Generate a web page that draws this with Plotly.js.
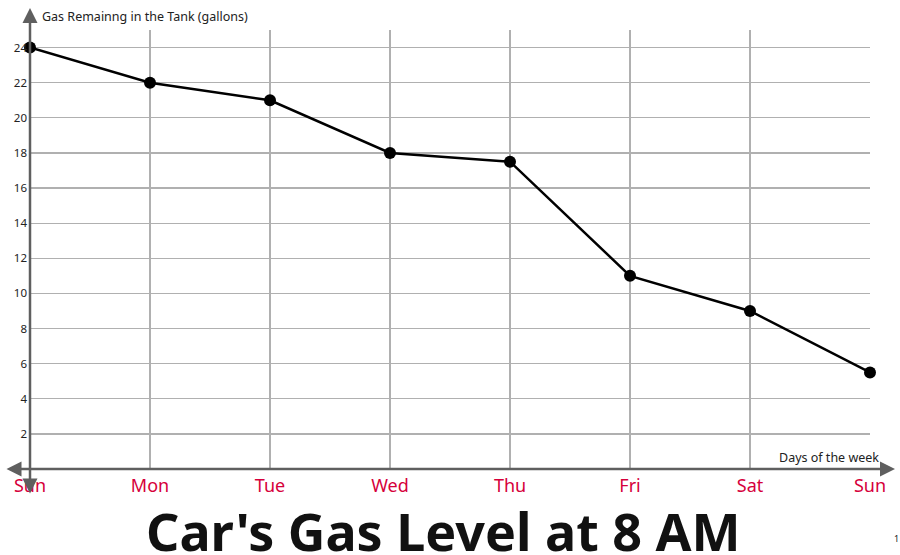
<!DOCTYPE html>
<html><head><meta charset="utf-8">
<script src="https://cdn.plot.ly/plotly-3.0.1.min.js"></script>
<style>body{margin:0}#c{width:900px;height:555px}</style>
</head><body><div id="c"></div>
<script>
const days = ["Sun","Mon","Tue","Wed","Thu","Fri","Sat","Sun"];
const dayIndex = [0,1,2,3,4,5,6,7];
const gallons = [24,22,21,18,17.5,11,9,5.5];
const yTicks = [2,4,6,8,10,12,14,16,18,20,22,24];

const axisColor = '#5f5f5f';
const data = [{
  x: dayIndex, y: gallons, type: 'scatter', mode: 'lines+markers',
  line: {color: '#000', width: 2.5},
  marker: {color: '#000', size: 12},
  cliponaxis: false, hoverinfo: 'skip'
}];
const layout = {
  width: 900, height: 555,
  margin: {l: 30, r: 30, t: 30, b: 86},
  paper_bgcolor: '#fff', plot_bgcolor: '#fff',
  showlegend: false,
  font: {family: 'Noto Sans, sans-serif', color: '#222'},
  xaxis: {
    range: [0, 7], tickvals: dayIndex, ticktext: days,
    showgrid: true, gridcolor: '#b0b0b0', gridwidth: 1.3,
    zeroline: false, showline: false, ticks: '',
    tickfont: {size: 18, color: '#d6003b'}, ticklabelstandoff: 4
  },
  yaxis: {
    range: [0, 25], tickvals: yTicks,
    showgrid: true, gridcolor: '#b0b0b0', gridwidth: 1.3,
    zeroline: false, showline: false, ticks: '',
    tickfont: {size: 11.5, color: '#222'}, ticklabelstandoff: 2
  },
  annotations: [
    {xref: 'paper', yref: 'paper', x: (895-30)/840, y: 0, ax: -890, ay: 0,
     showarrow: true, arrowside: 'end+start', arrowhead: 2, arrowsize: 1.2, arrowwidth: 2.5, arrowcolor: axisColor, text: ''},
    {xref: 'paper', yref: 'paper', x: 0, y: (469-8)/439, ax: 0, ay: 487,
     showarrow: true, arrowside: 'end+start', arrowhead: 2, arrowsize: 1.2, arrowwidth: 2.5, arrowcolor: axisColor, text: ''},
    {xref: 'paper', yref: 'paper', x: 10/840, y: (469-16)/439, xanchor: 'left', yanchor: 'middle',
     showarrow: false, text: 'Gas Remainng in the Tank (gallons)', font: {size: 12.5, color: '#222'}},
    {xref: 'paper', yref: 'paper', x: (881-30)/840, y: (469-457)/439, xanchor: 'right', yanchor: 'middle',
     showarrow: false, text: 'Days of the week', font: {size: 12.5, color: '#222'}},
    {xref: 'paper', yref: 'paper', x: (443-30)/840, y: (469-530)/439, xanchor: 'center', yanchor: 'middle',
     showarrow: false, text: "<b>Car's Gas Level at 8 AM</b>", font: {size: 52, color: '#111'}},
    {xref: 'paper', yref: 'paper', x: (892-30)/840, y: (469-538)/439, xanchor: 'left', yanchor: 'middle',
     showarrow: false, text: '1', font: {size: 9, color: '#222'}}
  ]
};
Plotly.newPlot('c', data, layout, {staticPlot: true});
</script></body></html>
